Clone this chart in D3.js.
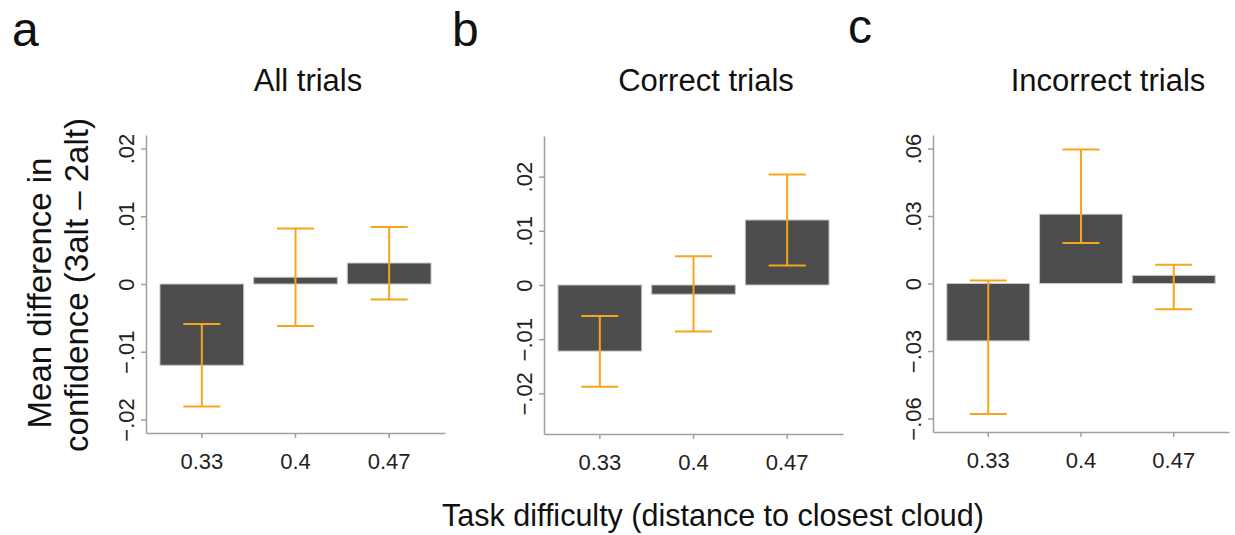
<!DOCTYPE html>
<html>
<head>
<meta charset="utf-8">
<script src="https://cdn.jsdelivr.net/npm/d3@7"></script>
<style>
  html, body { margin: 0; padding: 0; background: #fff; }
  svg { display: block; font-family: "Liberation Sans", Arial, Helvetica, sans-serif; }
</style>
</head>
<body>
<svg id="chart" width="1235" height="535"></svg>
<script>
// ---- data ----
const categories = ["0.33", "0.4", "0.47"];
const panelLetters = ["a", "b", "c"];
const panelTitles = ["All trials", "Correct trials", "Incorrect trials"];

const allMeans = [-0.0120, 0.0010, 0.0031];
const allLower = [-0.0181, -0.0062, -0.0023];
const allUpper = [-0.0059, 0.0082, 0.0084];

const correctMeans = [-0.0122, -0.0017, 0.0120];
const correctLower = [-0.0188, -0.0086, 0.0036];
const correctUpper = [-0.0057, 0.0053, 0.0204];

const incorrectMeans = [-0.0255, 0.0308, 0.0036];
const incorrectLower = [-0.0580, 0.0180, -0.0114];
const incorrectUpper = [0.0013, 0.0596, 0.0083];

const yTicksSmall = [-0.02, -0.01, 0, 0.01, 0.02];
const yTickLabelsSmall = ["\u2212.02", "\u2212.01", "0", ".01", ".02"];
const yTicksLarge = [-0.06, -0.03, 0, 0.03, 0.06];
const yTickLabelsLarge = ["\u2212.06", "\u2212.03", "0", ".03", ".06"];
const yLimits = [0.022, 0.0275, 0.066];

const yLabelLines = ["Mean difference in", "confidence (3alt \u2013 2alt)"];
const xLabel = "Task difficulty (distance to closest cloud)";

// ---- layout ----
const panels = [
  { means: allMeans, lower: allLower, upper: allUpper, ticks: yTicksSmall, tickLabels: yTickLabelsSmall, lim: yLimits[0],
    x0: 146, x1: 445, yTop: 135, yBot: 433, titleX: 308, letterX: 12, letterY: 46 },
  { means: correctMeans, lower: correctLower, upper: correctUpper, ticks: yTicksSmall, tickLabels: yTickLabelsSmall, lim: yLimits[1],
    x0: 544, x1: 843, yTop: 136, yBot: 434, titleX: 706, letterX: 452, letterY: 46 },
  { means: incorrectMeans, lower: incorrectLower, upper: incorrectUpper, ticks: yTicksLarge, tickLabels: yTickLabelsLarge, lim: yLimits[2],
    x0: 933, x1: 1229, yTop: 135, yBot: 432, titleX: 1108, letterX: 848, letterY: 43 }
];

const svg = d3.select("#chart");
const axisColor = "#a0a0a0";
const barColor = "#4d4d4d";
const errColor = "#f7a51c";

panels.forEach((p, i) => {
  const g = svg.append("g");
  const x = d3.scaleBand().domain(categories).range([p.x0, p.x1])
    .paddingInner(0.106).paddingOuter(0.149);
  const y = d3.scaleLinear().domain([-p.lim, p.lim]).range([p.yBot, p.yTop]);

  // bars
  g.selectAll("rect.bar").data(categories).join("rect")
    .attr("class", "bar")
    .attr("x", d => x(d))
    .attr("width", x.bandwidth())
    .attr("y", (d, k) => y(Math.max(0, p.means[k])))
    .attr("height", (d, k) => Math.abs(y(p.means[k]) - y(0)))
    .attr("fill", barColor)
    .attr("stroke", "#c8c8c8")
    .attr("stroke-width", 1);

  // error bars
  const capHalf = 18.5;
  const eg = g.selectAll("g.err").data(categories).join("g").attr("class", "err")
    .attr("stroke", errColor).attr("stroke-width", 2).attr("fill", "none");
  eg.append("line")
    .attr("x1", d => x(d) + x.bandwidth() / 2).attr("x2", d => x(d) + x.bandwidth() / 2)
    .attr("y1", (d, k) => y(p.lower[k])).attr("y2", (d, k) => y(p.upper[k]));
  eg.append("line")
    .attr("x1", d => x(d) + x.bandwidth() / 2 - capHalf).attr("x2", d => x(d) + x.bandwidth() / 2 + capHalf)
    .attr("y1", (d, k) => y(p.lower[k])).attr("y2", (d, k) => y(p.lower[k]));
  eg.append("line")
    .attr("x1", d => x(d) + x.bandwidth() / 2 - capHalf).attr("x2", d => x(d) + x.bandwidth() / 2 + capHalf)
    .attr("y1", (d, k) => y(p.upper[k])).attr("y2", (d, k) => y(p.upper[k]));

  // y axis
  const yAxis = d3.axisLeft(y).tickValues(p.ticks)
    .tickFormat((d, k) => p.tickLabels[k]).tickSize(5).tickSizeOuter(0);
  const ya = g.append("g").attr("transform", `translate(${p.x0},0)`).call(yAxis);
  ya.select(".domain").attr("stroke", axisColor).attr("stroke-width", 1.5);
  ya.selectAll(".tick line").attr("stroke", axisColor).attr("stroke-width", 1.5);
  ya.selectAll(".tick text")
    .attr("x", null).attr("dy", null)
    .attr("transform", "translate(-12,0) rotate(-90)")
    .attr("text-anchor", "middle")
    .attr("fill", "#222")
    .style("font-size", "22px")
    .style("font-family", "Liberation Sans, Arial, sans-serif");

  // x axis
  const xAxis = d3.axisBottom(x).tickSize(5).tickSizeOuter(0);
  const xa = g.append("g").attr("transform", `translate(0,${p.yBot})`).call(xAxis);
  xa.select(".domain").attr("stroke", axisColor).attr("stroke-width", 1.5);
  xa.selectAll(".tick line").attr("stroke", axisColor).attr("stroke-width", 1.5);
  xa.selectAll(".tick text")
    .attr("y", 36).attr("dy", null)
    .attr("fill", "#222")
    .style("font-size", "22px")
    .style("font-family", "Liberation Sans, Arial, sans-serif");

  // title
  svg.append("text").attr("x", p.titleX).attr("y", 91)
    .attr("text-anchor", "middle").attr("fill", "#111")
    .style("font-size", "31px").text(panelTitles[i]);

  // panel letter
  svg.append("text").attr("x", p.letterX).attr("y", p.letterY)
    .attr("fill", "#111").style("font-size", "48px").text(panelLetters[i]);
});

// y label
svg.append("text").attr("transform", "translate(51,293) rotate(-90)")
  .attr("text-anchor", "middle").attr("fill", "#111").style("font-size", "33px").text(yLabelLines[0]);
svg.append("text").attr("transform", "translate(88,285) rotate(-90)")
  .attr("text-anchor", "middle").attr("fill", "#111").style("font-size", "33px").text(yLabelLines[1]);

// x label
svg.append("text").attr("x", 713).attr("y", 526)
  .attr("text-anchor", "middle").attr("fill", "#111").style("font-size", "30.5px").text(xLabel);
</script>
</body>
</html>
